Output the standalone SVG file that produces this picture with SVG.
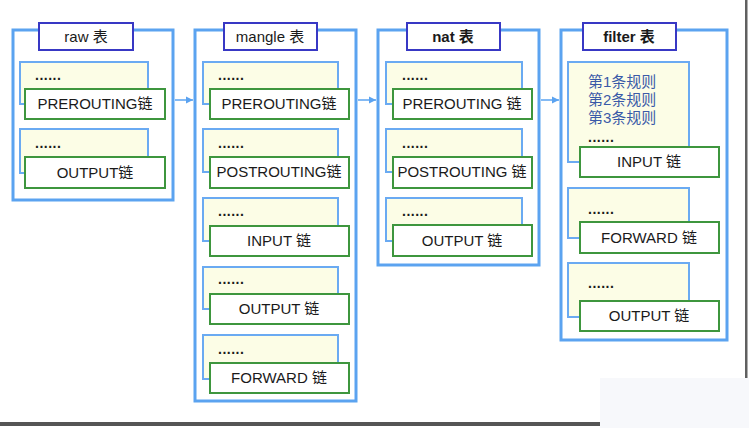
<svg xmlns="http://www.w3.org/2000/svg" width="749" height="428" viewBox="0 0 749 428">
<defs>
<style>
.outer{fill:#ffffff;stroke:#5ba3f0;stroke-width:3}
.title{fill:#ffffff;stroke:#3838c4;stroke-width:2}
.back{fill:#fcfde6;stroke:#6aaaf2;stroke-width:2}
.chain{fill:#ffffff;stroke:#3e963e;stroke-width:2}
text{font-family:"Liberation Sans","Noto Sans CJK SC",sans-serif;fill:#1a1a1a}
.t{font-size:15px;text-anchor:middle}
.tb{font-size:15px;text-anchor:middle;font-weight:bold}
.c{font-size:15px;text-anchor:middle}
.d{font-size:14px;font-weight:bold;letter-spacing:0.5px}
.r{font-size:15px;fill:#3a5aa8}
.conn{stroke:#5ba3f0;stroke-width:1.5;fill:none}
</style>
<marker id="ah" markerWidth="8" markerHeight="8" refX="7" refY="4" orient="auto" markerUnits="userSpaceOnUse">
<path d="M0,0.5 L7,4 L0,7.5 Z" fill="#5ba3f0"/>
</marker>
</defs>
<rect x="0" y="0" width="749" height="428" fill="#ffffff"/>
<rect x="600" y="378" width="149" height="50" fill="#f7f8fb"/>
<rect x="745" y="0" width="2.5" height="378" fill="#606060"/>
<rect x="0" y="422" width="600" height="4" fill="#555555"/>

<g id="raw">
<rect class="outer" x="13" y="30" width="160" height="170"/>
<rect class="title" x="39" y="23" width="94" height="27"/>
<text class="t" x="86" y="42">raw 表</text>
<rect class="back" x="20" y="62" width="128" height="42"/>
<text class="d" x="35" y="80">......</text>
<rect class="chain" x="25" y="89" width="140" height="30"/>
<text class="c" x="95" y="109">PREROUTING链</text>
<rect class="back" x="20" y="129" width="128" height="44"/>
<text class="d" x="35" y="148">......</text>
<rect class="chain" x="25" y="157" width="140" height="31"/>
<text class="c" x="95" y="178">OUTPUT链</text>
</g>

<g id="mangle">
<rect class="outer" x="195" y="30" width="161" height="371"/>
<rect class="title" x="224" y="23" width="93" height="27"/>
<text class="t" x="270" y="42">mangle 表</text>
<rect class="back" x="203" y="62" width="135" height="42"/>
<text class="d" x="218" y="80">......</text>
<rect class="chain" x="210" y="89" width="139" height="30"/>
<text class="c" x="279" y="109">PREROUTING链</text>
<rect class="back" x="203" y="129" width="135" height="43"/>
<text class="d" x="218" y="148">......</text>
<rect class="chain" x="210" y="157" width="139" height="31"/>
<text class="c" x="279" y="177">POSTROUTING链</text>
<rect class="back" x="203" y="198" width="135" height="43"/>
<text class="d" x="218" y="216">......</text>
<rect class="chain" x="210" y="226" width="139" height="30"/>
<text class="c" x="279" y="246">INPUT 链</text>
<rect class="back" x="203" y="267" width="135" height="42"/>
<text class="d" x="218" y="284">......</text>
<rect class="chain" x="210" y="294" width="139" height="30"/>
<text class="c" x="279" y="314">OUTPUT 链</text>
<rect class="back" x="203" y="335" width="135" height="44"/>
<text class="d" x="218" y="354">......</text>
<rect class="chain" x="210" y="363" width="139" height="30"/>
<text class="c" x="279" y="383">FORWARD 链</text>
</g>

<g id="nat">
<rect class="outer" x="378" y="30" width="161" height="235"/>
<rect class="title" x="407" y="23" width="93" height="27"/>
<text class="tb" x="453" y="42">nat 表</text>
<rect class="back" x="386" y="62" width="136" height="42"/>
<text class="d" x="402" y="80">......</text>
<rect class="chain" x="393" y="89" width="139" height="30"/>
<text class="c" x="462" y="109">PREROUTING 链</text>
<rect class="back" x="386" y="129" width="136" height="43"/>
<text class="d" x="402" y="148">......</text>
<rect class="chain" x="393" y="157" width="139" height="31"/>
<text class="c" x="462" y="177">POSTROUTING 链</text>
<rect class="back" x="386" y="198" width="136" height="43"/>
<text class="d" x="402" y="216">......</text>
<rect class="chain" x="393" y="225" width="139" height="31"/>
<text class="c" x="462" y="246">OUTPUT 链</text>
</g>

<g id="filter">
<rect class="outer" x="561" y="30" width="166" height="310"/>
<rect class="title" x="583" y="23" width="93" height="27"/>
<text class="tb" x="629" y="42">filter 表</text>
<rect class="back" x="568" y="62" width="121" height="100"/>
<text class="r" x="588" y="87">第1条规则</text>
<text class="r" x="588" y="105">第2条规则</text>
<text class="r" x="588" y="123">第3条规则</text>
<text class="d" x="588" y="142">......</text>
<rect class="chain" x="580" y="147" width="139" height="30"/>
<text class="c" x="649" y="167">INPUT 链</text>
<rect class="back" x="568" y="188" width="121" height="50"/>
<text class="d" x="588" y="214">......</text>
<rect class="chain" x="580" y="222" width="139" height="31"/>
<text class="c" x="649" y="243">FORWARD 链</text>
<rect class="back" x="568" y="263" width="121" height="54"/>
<text class="d" x="588" y="288">......</text>
<rect class="chain" x="580" y="301" width="139" height="30"/>
<text class="c" x="649" y="321">OUTPUT 链</text>
</g>

<g id="connectors">
<line class="conn" x1="175" y1="100" x2="193" y2="100" marker-end="url(#ah)"/>
<line class="conn" x1="358" y1="100" x2="376" y2="100" marker-end="url(#ah)"/>
<line class="conn" x1="541" y1="100" x2="559" y2="100" marker-end="url(#ah)"/>
</g>
</svg>
